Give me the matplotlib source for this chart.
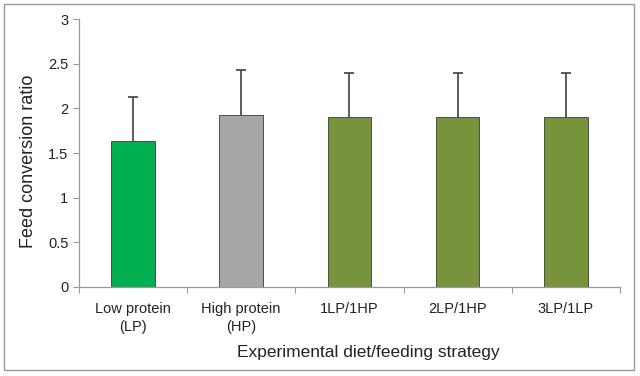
import matplotlib.pyplot as plt
import numpy as np
from matplotlib.patches import Rectangle

plt.rcParams['font.family'] = ['Liberation Sans', 'DejaVu Sans']

# 数据
categories = ['Low protein\n(LP)', 'High protein\n(HP)', '1LP/1HP', '2LP/1HP', '3LP/1LP']
fcr = [1.63, 1.93, 1.90, 1.90, 1.90]
fcr_err = [0.50, 0.50, 0.50, 0.50, 0.50]
colors = ['#00B050', '#A6A6A6', '#77933C', '#77933C', '#77933C']

fig = plt.figure(figsize=(6.4, 3.76), dpi=100)
ax = fig.add_axes([0.123, 0.237, 0.846, 0.712])

x = np.arange(len(categories))
ax.bar(x, fcr, width=0.4, color=colors, edgecolor='#3a3a3a', linewidth=0.6, zorder=2)
eb = ax.errorbar(x, fcr, yerr=[np.zeros(len(fcr)), fcr_err], fmt='none',
                 ecolor='#404040', elinewidth=1.2, capsize=3.5, capthick=1.2, zorder=3)
# 只保留上方的横线
eb[1][0].set_visible(False)

ax.set_xlim(-0.5, len(categories) - 0.5)
ax.set_ylim(0, 3)
ax.set_yticks(np.arange(0, 3.01, 0.5))
ax.set_yticklabels(['0', '0.5', '1', '1.5', '2', '2.5', '3'])

# x刻度在类别之间
ax.set_xticks(np.arange(-0.5, len(categories), 1.0))
ax.set_xticklabels([])
ax.set_xticks(x, minor=True)
ax.set_xticklabels(categories, minor=True, fontsize=10.5, color='#222222', linespacing=1.35)
ax.tick_params(axis='x', which='minor', length=0, pad=11)
ax.tick_params(axis='x', which='major', length=4, color='#999999')
ax.tick_params(axis='y', length=4, color='#999999', labelsize=10.5, labelcolor='#222222')

for s in ['top', 'right']:
    ax.spines[s].set_visible(False)
for s in ['left', 'bottom']:
    ax.spines[s].set_color('#999999')
    ax.spines[s].set_linewidth(0.9)

ax.set_ylabel('Feed conversion ratio', fontsize=13, color='#222222', labelpad=8)
ax.yaxis.label.set_y(0.47)
fig.text(0.575, 0.063, 'Experimental diet/feeding strategy', ha='center', va='center',
         fontsize=12.5, color='#222222')

# 外边框
fig.patches.append(Rectangle((0.006, 0.015), 0.985, 0.975, transform=fig.transFigure,
                             fill=False, edgecolor='#999999', linewidth=1))

fig.savefig('out.png', dpi=100)
